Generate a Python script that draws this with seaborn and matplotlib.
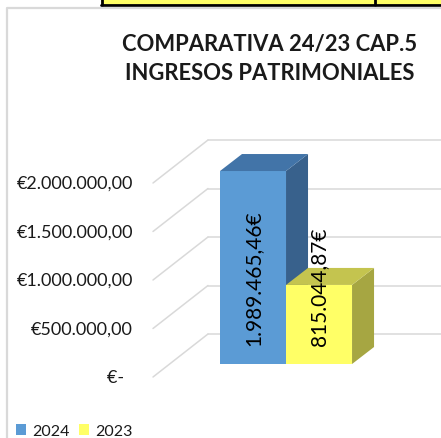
import pandas as pd
import seaborn as sns
import matplotlib
from matplotlib import pyplot as plt
from matplotlib.patches import Polygon, Rectangle
from matplotlib.lines import Line2D

# data
years = ["2024", "2023"]
values = [1989465.46, 815044.87]
value_labels = ["1.989.465,46€", "815.044,87€"]
tick_values = [0, 500000, 1000000, 1500000, 2000000]
tick_labels = ["€-  ", "€500.000,00", "€1.000.000,00", "€1.500.000,00", "€2.000.000,00"]
title_lines = ["COMPARATIVA 24/23 CAP.5", "INGRESOS PATRIMONIALES"]

front_colors = ["#5B9BD5", "#FFFF66"]
top_colors = ["#4274A8", "#C4C44F"]
side_colors = ["#38618C", "#A6A642"]
grid_color = "#D9D9D9"
text_color = "#1A1A1A"

sns.set_theme(style="white")
plt.rcParams['font.family'] = ['Lato', 'DejaVu Sans']

W, H = 441, 439
fig = plt.figure(figsize=(W / 100, H / 100), dpi=100)

# chart frame and the spreadsheet cell peeking in at the top
fig.add_artist(Rectangle((101 / W, 1 - 6 / H), (W - 101) / W, 6 / H,
                         transform=fig.transFigure, facecolor="#FFFF66",
                         edgecolor="none"))
fig.add_artist(Line2D([101 / W, 1], [1 - 6 / H, 1 - 6 / H], color="black",
                      lw=2, transform=fig.transFigure))
fig.add_artist(Line2D([102 / W, 102 / W], [1 - 6 / H, 1], color="black",
                      lw=2, transform=fig.transFigure))
fig.add_artist(Line2D([375 / W, 375 / W], [1 - 6 / H, 1], color="black",
                      lw=2, transform=fig.transFigure))
fig.add_artist(Line2D([7 / W, 7 / W, 1], [0, 1 - 9 / H, 1 - 9 / H],
                      color="#D9D9D9", lw=1.6, transform=fig.transFigure))

# axes = front plane of the bars
ax = fig.add_axes([170 / W, (H - 365) / H, (W - 170) / W, 213.4 / H])
df = pd.DataFrame({"cat": ["CAP.5"] * 2, "year": years, "value": values})
sns.barplot(data=df, x="cat", y="value", hue="year", hue_order=years,
            palette=front_colors, saturation=1, width=0.8, legend=False,
            ax=ax, zorder=3)
ax.set_xlim(-0.703, 0.939)
ax.set_ylim(0, 2.2e6)
ax.axis('off')

x0, x1 = ax.get_xlim()
y0, y1 = ax.get_ylim()
pos = ax.get_position()
ux = (x1 - x0) / (pos.width * W)
uy = (y1 - y0) / (pos.height * H)


def off(dx, dy):
    return dx * ux, dy * uy


fx, fy = off(-17, -13)   # front edge of the floor
bx, by = off(38, 30)     # back wall
dx, dy = off(22, 17)     # bar depth

for v in tick_values:
    ax.plot([x0 + fx, x0 + bx], [v + fy, v + by], color=grid_color, lw=1.1,
            clip_on=False, zorder=1)
    ax.plot([x0 + bx, x1 + 1], [v + by, v + by], color=grid_color, lw=1.1,
            clip_on=False, zorder=1)

for v, lbl in zip(tick_values, tick_labels):
    ax.text(x0 + fx - 20 * ux, v + fy, lbl, ha='right', va='center',
            fontsize=13, color=text_color, clip_on=False)

# 3d faces
for i, p in enumerate(ax.patches[:len(values)]):
    x, w, h = p.get_x(), p.get_width(), p.get_height()
    p.set_zorder(3 + 2 * i)
    p.set_edgecolor("none")
    side = Polygon([(x + w, 0), (x + w, h), (x + w + dx, h + dy),
                    (x + w + dx, dy)], closed=True, facecolor=side_colors[i],
                   edgecolor="none", zorder=3 + 2 * i, clip_on=False)
    top = Polygon([(x, h), (x + w, h), (x + w + dx, h + dy), (x + dx, h + dy)],
                  closed=True, facecolor=top_colors[i], edgecolor="none",
                  zorder=3 + 2 * i, clip_on=False)
    ax.add_patch(side)
    ax.add_patch(top)
    ax.annotate(value_labels[i], xy=(x + w / 2, 0), xytext=(0, 19),
                textcoords='offset pixels', rotation=90, ha='center',
                va='bottom', fontsize=15, color="black", zorder=10)

fig.text(270 / W, 1 - 44.5 / H, title_lines[0], ha='center', va='center',
         fontsize=15.8, fontweight='bold', color=text_color)
fig.text(270 / W, 1 - 74 / H, title_lines[1], ha='center', va='center',
         fontsize=15.8, fontweight='bold', color=text_color)

handles = [Rectangle((0, 0), 1, 1, facecolor=c, edgecolor="none")
           for c in front_colors]
fig.legend(handles, years, loc='center left',
           bbox_to_anchor=(16 / W, 1 - 432 / H), ncol=2, frameon=False,
           fontsize=11.5, handlelength=0.65, handleheight=0.65,
           handletextpad=0.35, columnspacing=0.6, borderpad=0,
           borderaxespad=0, labelcolor=text_color)

fig.savefig("out.png", dpi=100)
